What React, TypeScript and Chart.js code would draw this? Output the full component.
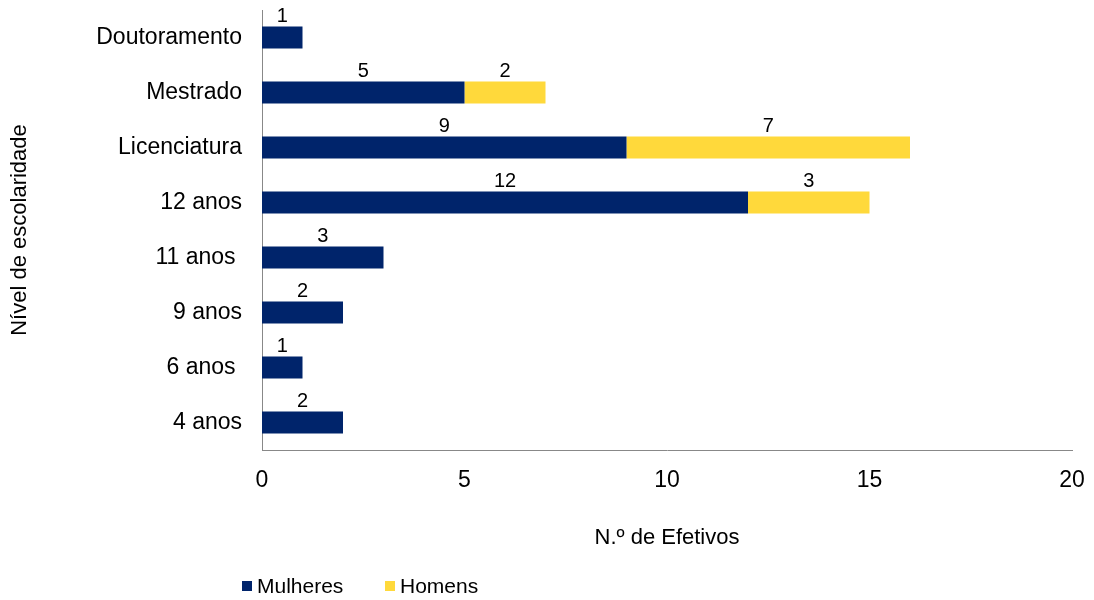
import React, { useEffect, useRef } from "react";
import { Chart, registerables } from "chart.js";

Chart.register(...registerables);

const categories = ["Doutoramento", "Mestrado", "Licenciatura", "12 anos", "11 anos ", "9 anos", "6 anos ", "4 anos"];
const mulheres = [1, 5, 9, 12, 3, 2, 1, 2];
const homens = [0, 2, 7, 3, 0, 0, 0, 0];
const seriesNames = ["Mulheres", "Homens"];
const xTicks = [0, 5, 10, 15, 20];
const xTitle = "N.º de Efetivos";
const yTitle = "Nível de escolaridade";

const NAVY = "#00246B";
const YELLOW = "#FFD93B";
const FONT = "'Liberation Sans', Arial, sans-serif";

const valueLabels = {
  id: "valueLabels",
  afterDatasetsDraw(chart: any) {
    const ctx = chart.ctx;
    ctx.save();
    ctx.font = `20px ${FONT}`;
    ctx.fillStyle = "#000";
    ctx.textAlign = "center";
    ctx.textBaseline = "alphabetic";
    chart.data.datasets.forEach((ds: any, di: number) => {
      const meta = chart.getDatasetMeta(di);
      meta.data.forEach((el: any, i: number) => {
        const v = ds.data[i];
        if (!v) return;
        const p = el.getProps(["x", "y", "base", "height"], true);
        const cx = (p.x + p.base) / 2;
        const top = p.y - p.height / 2;
        ctx.fillText(String(v), cx, top - 5);
      });
    });
    ctx.restore();
  },
};

const customLegend = {
  id: "customLegend",
  afterDraw(chart: any) {
    const ctx = chart.ctx;
    ctx.save();
    ctx.font = `21px ${FONT}`;
    ctx.textBaseline = "middle";
    ctx.textAlign = "left";
    const items = [
      { x: 242, color: NAVY, text: seriesNames[0] },
      { x: 385, color: YELLOW, text: seriesNames[1] },
    ];
    items.forEach((it) => {
      ctx.fillStyle = it.color;
      ctx.fillRect(it.x, 581, 10, 10);
      ctx.fillStyle = "#000";
      ctx.fillText(it.text, it.x + 15, 587);
    });
    ctx.restore();
  },
};

export default function App() {
  const ref = useRef<HTMLCanvasElement | null>(null);
  useEffect(() => {
    if (!ref.current) return;
    const chart = new Chart(ref.current, {
      type: "bar",
      data: {
        labels: categories,
        datasets: [
          { label: seriesNames[0], data: mulheres, backgroundColor: NAVY, barPercentage: 0.5, categoryPercentage: 0.8 },
          { label: seriesNames[1], data: homens, backgroundColor: YELLOW, barPercentage: 0.5, categoryPercentage: 0.8 },
        ],
      },
      options: {
        indexAxis: "y",
        animation: false,
        responsive: true,
        maintainAspectRatio: false,
        layout: { padding: { left: 0, right: 22, top: 10, bottom: 40 } },
        plugins: {
          legend: { display: false },
          tooltip: { enabled: false },
        },
        scales: {
          x: {
            stacked: true,
            min: 0,
            max: 20,
            afterBuildTicks: (scale: any) => {
              scale.ticks = xTicks.map((v) => ({ value: v }));
            },
            afterFit: (scale: any) => {
              scale.height = 110;
              scale.paddingLeft = 0;
              scale.paddingRight = 0;
              scale.paddingTop = 0;
              scale.paddingBottom = 0;
            },
            grid: { display: false, drawTicks: false },
            border: { display: true, color: "#888888", width: 1 },
            ticks: { color: "#000", padding: 17, font: { family: FONT, size: 23 } },
            title: {
              display: true,
              text: xTitle,
              color: "#000",
              font: { family: FONT, size: 22 },
              padding: { top: 4, bottom: 9 },
            },
          },
          y: {
            stacked: true,
            afterFit: (scale: any) => {
              scale.width = 262;
              scale.paddingLeft = 0;
              scale.paddingRight = 0;
              scale.paddingTop = 0;
              scale.paddingBottom = 0;
            },
            grid: { display: false, drawTicks: false },
            border: { display: true, color: "#888888", width: 1 },
            ticks: { color: "#000", padding: 20, font: { family: FONT, size: 23 } },
            title: {
              display: true,
              text: yTitle,
              color: "#000",
              font: { family: FONT, size: 22 },
              padding: { top: 7, bottom: 4 },
            },
          },
        },
      } as any,
      plugins: [valueLabels, customLegend],
    });
    return () => chart.destroy();
  }, []);
  return (
    <div style={{ position: "absolute", left: 0, top: 0, width: 1094, height: 600, background: "#fff" }}>
      <canvas ref={ref} />
    </div>
  );
}
